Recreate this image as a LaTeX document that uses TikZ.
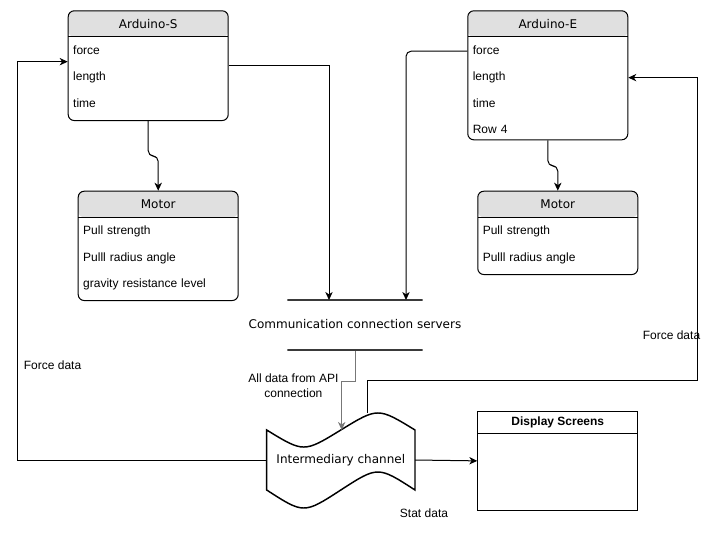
\documentclass[tikz,border=0pt]{standalone}
\usepackage{fontspec}
\setmainfont{Liberation Sans}
\newfontfamily\titlefont{DejaVu Sans}
\usetikzlibrary{positioning, arrows.meta}

\definecolor{headgray}{HTML}{E0E0E0}
\definecolor{servgray}{HTML}{3A3A3A}
\definecolor{linkgray}{HTML}{777777}

\begin{document}
\begin{tikzpicture}[
    x=0.75pt, y=-0.75pt,
    every node/.style={font=\fontsize{9}{11}\selectfont},
    lane/.style={
        rectangle,
        draw=black,
        fill=white,
        rounded corners=4.5pt,
        anchor=north west,
        inner sep=0pt,
        minimum width=120pt,
        line width=0.75pt,
        path picture={
            \fill[headgray] (path picture bounding box.north west)
                rectangle ([yshift=-19.5pt]path picture bounding box.north east);
            \draw[line width=0.75pt] ([yshift=-19.5pt]path picture bounding box.north west)
                -- ([yshift=-19.5pt]path picture bounding box.north east);
        }
    },
    lanetitle/.style={
        anchor=north,
        inner sep=0pt,
        minimum width=120pt,
        minimum height=19.5pt,
        font=\titlefont\fontsize{9}{11}\selectfont
    },
    row/.style={
        inner sep=0pt,
        minimum height=19.5pt,
        text height=6.6pt,
        text depth=1.9pt,
        text width=110pt,
        align=left
    },
    servline/.style={
        draw=servgray,
        line width=1.5pt,
        inner sep=0pt,
        minimum width=101.3pt,
        minimum height=0pt
    },
    label/.style={inner sep=1pt, align=center},
    arrow/.style={
        -{Stealth[length=6pt, width=5.5pt, inset=1.8pt]},
        line width=0.75pt,
        color=black
    }
]
\useasboundingbox (0,0) rectangle (718,551);

% ==================== ARDUINO-S ====================
\node[lane, minimum height=82.3pt] (ardS) at (67.7,10.3) {};
\node[lanetitle] (ardS-t) at (ardS.north) {Arduino-S};
\node[row, below right=0.75pt and 3.75pt of ardS-t.south west] (ardS-force) {force};
\node[row, below=0pt of ardS-force] (ardS-length) {length};
\node[row, below=0pt of ardS-length] (ardS-time) {time};

\node[lane, minimum height=82pt] (motS) at (77.7,190.7) {};
\node[lanetitle] (motS-t) at (motS.north) {Motor};
\node[row, below right=0.75pt and 3.75pt of motS-t.south west] (motS-pull) {Pull strength};
\node[row, below=0pt of motS-pull] (motS-angle) {Pulll radius angle};
\node[row, below=0pt of motS-angle] (motS-grav) {gravity resistance level};

% ==================== ARDUINO-E ====================
\node[lane, minimum height=96.75pt] (ardE) at (467.3,10.3) {};
\node[lanetitle] (ardE-t) at (ardE.north) {Arduino-E};
\node[row, below right=0.75pt and 3.75pt of ardE-t.south west] (ardE-force) {force};
\node[row, below=0pt of ardE-force] (ardE-length) {length};
\node[row, below=0pt of ardE-length] (ardE-time) {time};
\node[row, below=0pt of ardE-time] (ardE-row) {Row 4};

\node[lane, minimum height=62.5pt] (motE) at (477.3,190.7) {};
\node[lanetitle] (motE-t) at (motE.north) {Motor};
\node[row, below right=0.75pt and 3.75pt of motE-t.south west] (motE-pull) {Pull strength};
\node[row, below=0pt of motE-pull] (motE-angle) {Pulll radius angle};

% Arduino to motor
\draw[arrow, rounded corners=4pt] (ardS.south) -- ++(0,35) -| (motS.north);
\draw[arrow, rounded corners=4pt] (ardE.south) -- ++(0,25.5) -| (motE.north);

% ==================== SERVERS ====================
\node[servline] (srvtop) at (355,300) {};
\node[servline] (srvbot) at (355,350.3) {};
\node[font=\titlefont\fontsize{9}{11}\selectfont] (srv) at (355,324.3) {Communication connection servers};
\coordinate (srvinS) at (329,300);
\coordinate (srvinE) at (406,300);

\draw[arrow] (ardS.east) -| (srvinS);
\draw[arrow, rounded corners=4pt] (ardE-force.west -| ardE.west) -| (srvinE);

% ==================== INTERMEDIARY CHANNEL ====================
\draw[line width=1.1pt, fill=white]
    (266.7,430) .. controls (303.8,452.7) .. (340.8,430)
    .. controls (377.9,407.3) .. (415,430) -- (415,490)
    .. controls (377.9,466) .. (340.8,490)
    .. controls (303.8,514) .. (266.7,490) -- cycle;
\node[minimum width=111.2pt, minimum height=45pt, inner sep=0pt,
      font=\titlefont\fontsize{9}{11}\selectfont] (chan) at (340.8,460) {Intermediary channel};

\draw[arrow, color=linkgray] (srvbot.south) -- ++(0,29.7) -| (341.7,430);
\node[label, anchor=east] (apilbl) at (340,385.5) {All data from API\\connection};

% ==================== DISPLAY ====================
\node[rectangle, draw, line width=0.75pt, anchor=north west, minimum width=120pt,
      minimum height=74.5pt, inner sep=0pt] (disp) at (477.3,410.7) {};
\node[anchor=north, inner sep=0pt, minimum width=120pt, minimum height=17pt,
      font=\bfseries\fontsize{9}{11}\selectfont] (disp-t) at (disp.north) {Display Screens};
\draw[line width=0.75pt] (disp-t.south west) -- (disp-t.south east);

% ==================== DATA FLOW ====================
\draw[arrow] (chan.east) -- (disp.west);
\node[label] (statlbl) at (424,513.3) {Stat data};

\draw[arrow] (chan.west) -- ++(-249.4,0) |- ([yshift=3pt]ardS.west);
\node[label, anchor=west] (forceS) at (22.3,365) {Force data};

\coordinate (chantop) at (367.3,413);
\draw[arrow] (chantop) -- ++(0,-33) -- ++(330,0) |- (ardE-length.east -| ardE.east);
\node[label] (forceE) at (671.5,335) {Force data};

\end{tikzpicture}
\end{document}
